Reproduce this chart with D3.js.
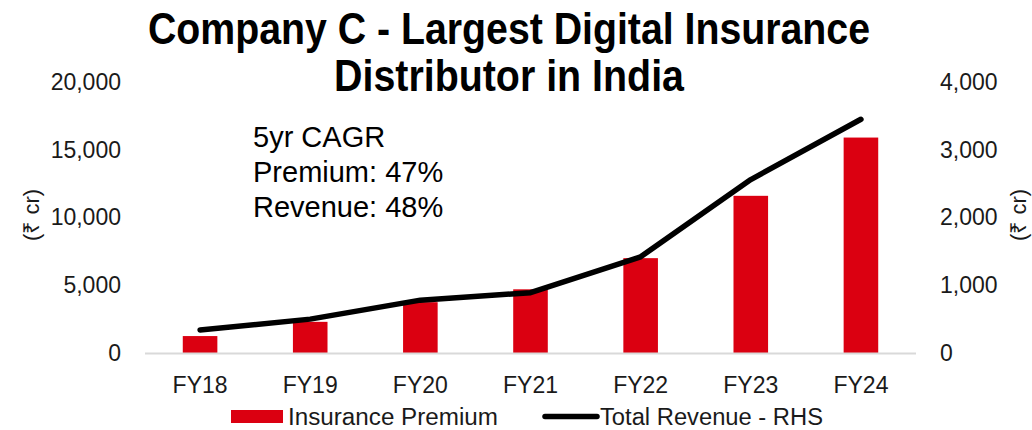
<!DOCTYPE html>
<html>
<head>
<meta charset="utf-8">
<script src="https://cdn.jsdelivr.net/npm/d3@7/dist/d3.min.js"></script>
<style>
  html, body { margin: 0; padding: 0; background: #fff; }
  svg { display: block; }
</style>
</head>
<body>
<svg id="chart" width="1032" height="430"></svg>
<script>
// Fiscal years on the x axis
const years = ["FY18", "FY19", "FY20", "FY21", "FY22", "FY23", "FY24"];
// Insurance premium (₹ cr), left axis
const premium = [1250, 2300, 3750, 4700, 7000, 11600, 15900];
// Total revenue (₹ cr), right axis
const revenue = [340, 500, 780, 890, 1420, 2560, 3450];
// Axis ticks
const leftTicks = [0, 5000, 10000, 15000, 20000];
const rightTicks = [0, 1000, 2000, 3000, 4000];
const titleLines = ["Company C - Largest Digital Insurance", "Distributor in India"];
const titleWidths = [722, 350];
const noteLines = ["5yr CAGR", "Premium: 47%", "Revenue: 48%"];
const seriesNames = ["Insurance Premium", "Total Revenue - RHS"];
const legendWidths = [210, 223];

const RED = "#DB0011";
const TEXT = "#1a1a1a";
const FONT = "'Liberation Sans', Arial, sans-serif";

const svg = d3.select("#chart");
const plot = { left: 145, right: 916, top: 82, bottom: 353 };

const x = d3.scaleBand()
  .domain(years)
  .range([plot.left, plot.right])
  .paddingInner(0.686)
  .paddingOuter(0.343);

const yL = d3.scaleLinear().domain([0, 20000]).range([plot.bottom, plot.top]);
const yR = d3.scaleLinear().domain([0, 4000]).range([plot.bottom, plot.top]);

// Title, condensed to a narrow bold look
svg.append("g").selectAll("text")
  .data(titleLines)
  .join("text")
  .attr("x", 509)
  .attr("y", (d, i) => 44 + i * 47)
  .attr("text-anchor", "middle")
  .attr("textLength", (d, i) => titleWidths[i])
  .attr("lengthAdjust", "spacingAndGlyphs")
  .style("font-family", FONT)
  .style("font-weight", "bold")
  .style("font-size", "44px")
  .style("fill", "#000")
  .text(d => d);

// Left axis
const axL = svg.append("g")
  .attr("transform", `translate(${plot.left},0)`)
  .call(d3.axisLeft(yL).tickValues(leftTicks).tickSize(0).tickPadding(24).tickFormat(d3.format(",")));
axL.select(".domain").remove();
axL.selectAll("text").style("font-family", FONT).style("font-size", "23px").style("fill", TEXT);

// Right axis
const axR = svg.append("g")
  .attr("transform", `translate(${plot.right},0)`)
  .call(d3.axisRight(yR).tickValues(rightTicks).tickSize(0).tickPadding(24).tickFormat(d3.format(",")));
axR.select(".domain").remove();
axR.selectAll("text").style("font-family", FONT).style("font-size", "23px").style("fill", TEXT);

// Bars
svg.append("g").selectAll("rect")
  .data(years)
  .join("rect")
  .attr("x", d => x(d))
  .attr("width", x.bandwidth())
  .attr("y", (d, i) => yL(premium[i]))
  .attr("height", (d, i) => yL(0) - yL(premium[i]))
  .attr("fill", RED);

// Baseline
svg.append("line")
  .attr("x1", plot.left).attr("x2", plot.right)
  .attr("y1", yL(0) + 0.5).attr("y2", yL(0) + 0.5)
  .attr("stroke", "#d9d9d9").attr("stroke-width", 2);

// Bottom axis labels
const axB = svg.append("g")
  .attr("transform", `translate(0,${plot.bottom})`)
  .call(d3.axisBottom(x).tickSize(0).tickPadding(24));
axB.select(".domain").remove();
axB.selectAll("text").style("font-family", FONT).style("font-size", "23px").style("fill", TEXT);

// Revenue line
const line = d3.line()
  .x((d, i) => x(years[i]) + x.bandwidth() / 2)
  .y(d => yR(d));
svg.append("path")
  .datum(revenue)
  .attr("d", line)
  .attr("fill", "none")
  .attr("stroke", "#000")
  .attr("stroke-width", 5.5)
  .attr("stroke-linecap", "round")
  .attr("stroke-linejoin", "round");

// CAGR note
svg.append("g").selectAll("text")
  .data(noteLines)
  .join("text")
  .attr("x", 253)
  .attr("y", (d, i) => 147 + i * 35)
  .style("font-family", FONT)
  .style("font-size", "29px")
  .style("fill", "#000")
  .text(d => d);

// Axis titles
svg.append("text")
  .attr("transform", "translate(39,215) rotate(-90)")
  .attr("text-anchor", "middle")
  .style("font-family", FONT).style("font-size", "22px").style("fill", TEXT)
  .text("(₹ cr)");
svg.append("text")
  .attr("transform", "translate(1026,215) rotate(-90)")
  .attr("text-anchor", "middle")
  .style("font-family", FONT).style("font-size", "22px").style("fill", TEXT)
  .text("(₹ cr)");

// Legend
const leg = svg.append("g");
leg.append("rect")
  .attr("x", 231).attr("y", 410).attr("width", 52).attr("height", 13)
  .attr("fill", RED);
leg.append("text")
  .attr("x", 288).attr("y", 425)
  .attr("textLength", legendWidths[0])
  .attr("lengthAdjust", "spacingAndGlyphs")
  .style("font-family", FONT).style("font-size", "23px").style("fill", TEXT)
  .text(seriesNames[0]);
leg.append("line")
  .attr("x1", 545).attr("x2", 597).attr("y1", 416.5).attr("y2", 416.5)
  .attr("stroke", "#000").attr("stroke-width", 5.5).attr("stroke-linecap", "round");
leg.append("text")
  .attr("x", 600).attr("y", 425)
  .attr("textLength", legendWidths[1])
  .attr("lengthAdjust", "spacingAndGlyphs")
  .style("font-family", FONT).style("font-size", "23px").style("fill", TEXT)
  .text(seriesNames[1]);
</script>
</body>
</html>
